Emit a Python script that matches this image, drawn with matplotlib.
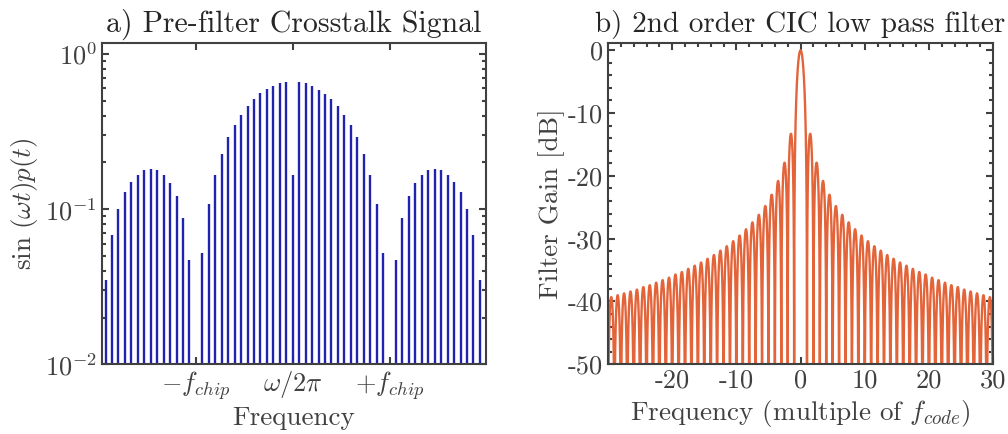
import numpy as np
import matplotlib
matplotlib.use("Agg")
import matplotlib.pyplot as plt
from matplotlib.ticker import FixedLocator, MultipleLocator, LogLocator, NullFormatter

plt.rcParams["font.family"] = "serif"
plt.rcParams["font.serif"] = ["cmr10", "DejaVu Serif"]
plt.rcParams["mathtext.fontset"] = "cm"
plt.rcParams["axes.unicode_minus"] = False
plt.rcParams["axes.formatter.use_mathtext"] = True

# ---- panel a: line spectrum (bin index relative to carrier, amplitude) ----
bin_index = list(range(-29, 30))
bin_amp = [0.035, 0.068, 0.100, 0.128, 0.150, 0.167, 0.178, 0.182, 0.178, 0.167,
           0.148, 0.122, 0.0875, 0.047, np.nan,
           0.052, 0.108, 0.167, 0.227, 0.290, 0.350, 0.406, 0.459, 0.513, 0.557,
           0.595, 0.624, 0.650, 0.659,
           0.167,
           0.659, 0.650, 0.624, 0.589, 0.552, 0.513, 0.464, 0.406, 0.350, 0.290,
           0.227, 0.167, 0.108, 0.052,
           np.nan,
           0.047, 0.0875, 0.122, 0.148, 0.167, 0.178, 0.181, 0.178, 0.167, 0.150,
           0.128, 0.100, 0.068, 0.035]
xtick_pos_a = [-15, 0, 15]
xtick_lab_a = [r"$-f_{chip}$", r"$\omega/2\pi$", r"$+f_{chip}$"]

# ---- panel b: CIC response, sidelobe peak levels (dB) read per lobe ----
null_pos = list(range(1, 31))          # nulls at integer multiples of f_code
lobe_peak_db = [-13.3, -17.9, -20.8, -23.0, -24.8, -26.2, -27.4, -28.5, -29.5, -30.4,
                -31.2, -31.9, -32.6, -33.2, -33.8, -34.3, -34.8, -35.3, -35.7, -36.2,
                -36.6, -37.0, -37.4, -37.7, -38.1, -38.4, -38.7, -39.0, -39.3]
main_peak_db = 0.0
xticks_b = [-20, -10, 0, 10, 20, 30]
yticks_b = [0, -10, -20, -30, -40, -50]

blue = "#2222b0"
orange = "#e4643a"
axcol = "#404040"
txtcol = "#404040"

fig = plt.figure(figsize=(10.08, 4.34), dpi=100)
axa = fig.add_axes([0.1009, 0.1606, 0.381, 0.7396])
axb = fig.add_axes([0.6032, 0.1606, 0.382, 0.7396])

# panel a
amp = np.array(bin_amp, dtype=float)
k = np.array(bin_index)
ok = ~np.isnan(amp)
axa.vlines(k[ok], 1e-2, amp[ok], color=blue, lw=1.7)
axa.set_yscale("log")
axa.set_ylim(1e-2, 1.17)
axa.set_xlim(-29.6, 29.9)
axa.set_xticks(xtick_pos_a)
axa.set_xticklabels(xtick_lab_a)
axa.yaxis.set_major_locator(FixedLocator([1e-2, 1e-1, 1e0]))
axa.yaxis.set_minor_locator(LogLocator(base=10, subs=np.arange(2, 10)))
axa.yaxis.set_minor_formatter(NullFormatter())
axa.set_xlabel("Frequency", color=txtcol, fontsize=19.5, labelpad=3)
axa.set_ylabel(r"$\sin\,(\omega t)p(t)$", color=txtcol, fontsize=19.5, labelpad=3)
axa.set_title("a) Pre-filter Crosstalk Signal", color="#262626", fontsize=21.5, pad=8)

# panel b: build each lobe between its nulls from the read peak level
fs, gs = [], []
u = np.linspace(0.0005, 0.9995, 200)
for side in (-1, 1):
    for n, pk in zip(null_pos, lobe_peak_db):
        f = n + u
        g = pk + 20 * np.log10(np.sin(np.pi * u))
        if side < 0:
            f, g = -f[::-1], g[::-1]
        fs.append(f)
        gs.append(g)
um = np.linspace(-0.9995, 0.9995, 400)
main_g = main_peak_db + 20 * np.log10(np.abs(np.sinc(um)))
segs = [(f, g) for f, g in zip(fs, gs)] + [(um, main_g)]
segs.sort(key=lambda s: s[0][0])
ff = np.concatenate([s[0] for s in segs])
gg = np.concatenate([s[1] for s in segs])
axb.plot(ff, gg, color=orange, lw=1.7, solid_joinstyle="round")
axb.set_xlim(-30, 30)
axb.set_ylim(-50, 1.1)
axb.set_xticks(xticks_b)
axb.set_xticklabels([str(v) for v in xticks_b])
axb.xaxis.set_minor_locator(MultipleLocator(2))
axb.set_yticks(yticks_b)
axb.set_yticklabels([str(v) for v in yticks_b])
axb.yaxis.set_minor_locator(MultipleLocator(2))
axb.set_xlabel(r"Frequency (multiple of $f_{code}$)", color=txtcol, fontsize=19.5, labelpad=4)
axb.set_ylabel("Filter Gain [dB]", color=txtcol, fontsize=19.5, labelpad=2)
axb.set_title("b) 2nd order CIC low pass filter", color="#262626", fontsize=21, pad=8)

for ax in (axa, axb):
    for s in ax.spines.values():
        s.set_color(axcol)
        s.set_linewidth(1.5)
    ax.tick_params(which="both", direction="in", top=True, right=True,
                   colors=axcol, labelcolor=txtcol, labelsize=19, width=1.5)
    ax.tick_params(which="major", length=5)
    ax.tick_params(which="minor", length=3)
    ax.set_facecolor("white")

fig.savefig("out.png", dpi=100)
